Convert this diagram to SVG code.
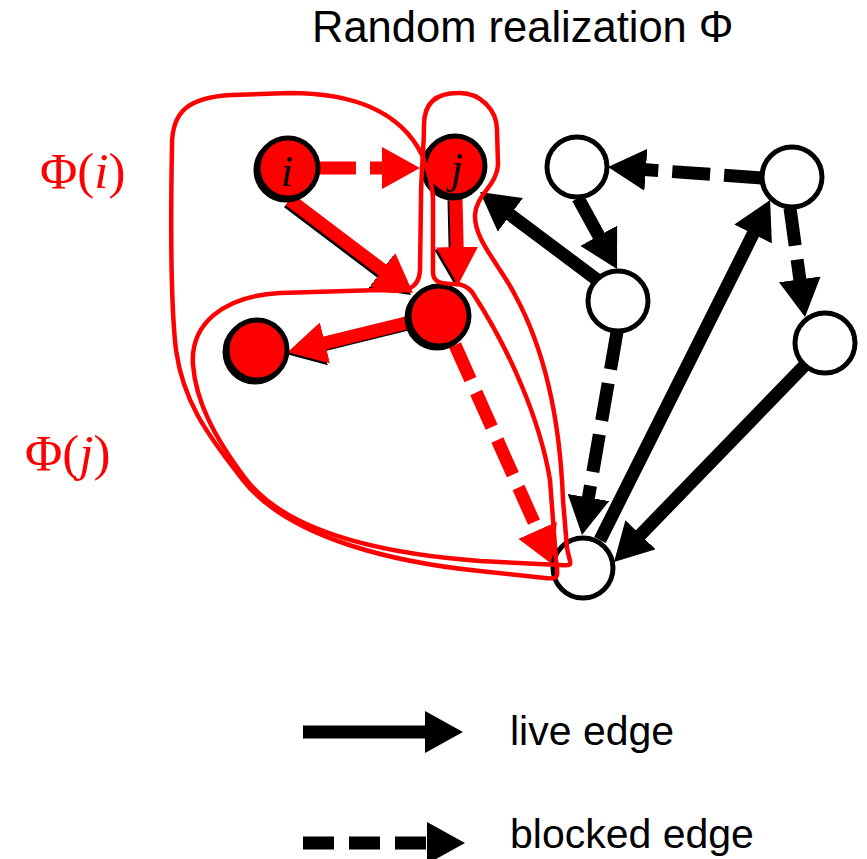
<svg xmlns="http://www.w3.org/2000/svg" width="867" height="859" viewBox="0 0 867 859">
<style>
.e{fill:none;stroke-width:13;stroke-linecap:butt}
.k{stroke:#000}
.r{stroke:#f00}
.d{stroke-dasharray:38 14}
.n{stroke:#000;stroke-width:5}
.w{fill:#fff}
.rf{fill:#f00}
.c{fill:none;stroke:#f00;stroke-width:4.5;stroke-linejoin:round}
.lab{font-family:"Liberation Serif","DejaVu Serif",serif;font-style:italic;font-size:44px;fill:#000;text-anchor:middle}
.phi{font-family:"Liberation Serif","DejaVu Serif",serif;font-size:51px;fill:#f00}
.txt{font-family:"Liberation Sans","Open Sans",sans-serif;font-size:41px;fill:#000}
.ttl{font-size:43.5px}
</style>
<defs>
<marker id="ak" markerUnits="userSpaceOnUse" markerWidth="38" markerHeight="42" refX="2" refY="21" orient="auto"><path d="M0,0 L38,21 L0,42 Z" fill="#000"/></marker>
<marker id="ar" markerUnits="userSpaceOnUse" markerWidth="38" markerHeight="42" refX="2" refY="21" orient="auto"><path d="M0,0 L38,21 L0,42 Z" fill="#f00"/></marker>
<filter id="sh" x="-30%" y="-30%" width="160%" height="160%"><feDropShadow dx="-2" dy="2" stdDeviation="0.5" flood-color="#000" flood-opacity="1"/></filter>
</defs>
<rect width="867" height="859" fill="#fff"/>
<text class="txt ttl" x="312" y="42">Random realization Φ</text>
<text class="phi" x="40" y="188">Φ(<tspan font-style="italic">i</tspan>)</text>
<text class="phi" x="25" y="470">Φ(<tspan font-style="italic">j</tspan>)</text>
<g id="connectors">
<line class="e r d" x1="318" y1="168" x2="384" y2="168" marker-end="url(#ar)"/>
<g filter="url(#sh)">
<line class="e r" x1="290" y1="200" x2="384.3" y2="271.3" marker-end="url(#ar)"/>
<line class="e r" x1="456" y1="198" x2="457.2" y2="249" marker-end="url(#ar)"/>
<line class="e r" x1="410" y1="322" x2="323" y2="343.4" marker-end="url(#ar)"/>
</g>
<line class="e r d" x1="455" y1="345" x2="538.4" y2="532.1" marker-end="url(#ar)"/>
<line class="e k" x1="600" y1="282" x2="508.8" y2="213.6" marker-end="url(#ak)"/>
<line class="e k" x1="578" y1="198" x2="599.7" y2="237.5" marker-end="url(#ak)"/>
<line class="e k d" x1="762" y1="178" x2="643.9" y2="169.6" marker-end="url(#ak)"/>
<line class="e k d" x1="790" y1="208" x2="800.1" y2="281.3" marker-end="url(#ak)"/>
<line class="e k d" x1="617" y1="332" x2="588.1" y2="499.5" marker-end="url(#ak)"/>
<line class="e k" x1="600" y1="540" x2="754" y2="232.2" marker-end="url(#ak)"/>
<line class="e k" x1="805" y1="365" x2="639.1" y2="536.2" marker-end="url(#ak)"/>
</g>
<g id="node-i" filter="url(#sh)"><circle class="n rf" cx="288" cy="168" r="30"/><text class="lab" x="287" y="186">i</text></g>
<g id="node-j" filter="url(#sh)"><circle class="n rf" cx="455" cy="166" r="30"/><text class="lab" x="457" y="183">j</text></g>
<g id="node-m" filter="url(#sh)"><circle class="n rf" cx="439" cy="316" r="30"/></g>
<g id="node-l" filter="url(#sh)"><circle class="n rf" cx="257" cy="350" r="30"/></g>
<g id="node-tl"><circle class="n w" cx="577" cy="167" r="30"/></g>
<g id="node-tr"><circle class="n w" cx="792" cy="177" r="30"/></g>
<g id="node-mw"><circle class="n w" cx="618" cy="301" r="30"/></g>
<g id="node-r"><circle class="n w" cx="825" cy="343" r="30"/></g>
<g id="node-b"><circle class="n w" cx="583" cy="568" r="30"/></g>
<g id="contours">
<path class="c" d="M172,145 C172,112 188,97 232,95 L290,93 C350,93 400,110 422,155 C428,170 433,185 433,200 L433,272 C433,282 440,284 455,284 C462,284 467,286 472,292 C510,350 540,420 550,480 L556,560 C558,575 560,580 545,578 L480,571 C400,563 290,540 243,480 C205,432 183,400 176,350 C170,300 171,200 172,145 Z"/>
<path class="c" d="M458,93 C480,92 497,110 497,130 L498,165 C497,185 476,195 475,215 C474,240 500,265 515,295 C545,350 560,420 563,500 L567,548 C570,565 575,566 560,565 L480,561 C400,555 290,538 245,478 C212,434 196,400 193,365 C190,325 222,296 280,293 L380,290 C400,292 419,293 420,270 L421,200 C421,170 424,150 424,125 C424,100 440,93 458,93 Z"/>
</g>
<g id="legend">
<line class="e k" x1="303" y1="732" x2="427" y2="732" marker-end="url(#ak)"/>
<text class="txt" x="510" y="745">live edge</text>
<line class="e k" x1="303" y1="843" x2="429" y2="843" stroke-dasharray="31 15" marker-end="url(#ak)"/>
<text class="txt" x="510" y="848">blocked edge</text>
</g>
</svg>
